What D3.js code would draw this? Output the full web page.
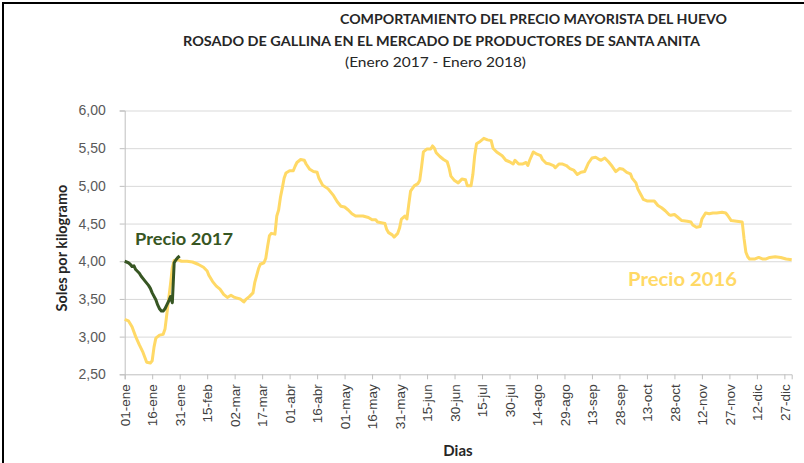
<!DOCTYPE html>
<html>
<head>
<meta charset="utf-8">
<script src="https://cdn.jsdelivr.net/npm/d3@7"></script>
<style>
  body { margin: 0; background: #fff; }
  svg { display: block; font-family: Lato, "Noto Sans", sans-serif; }
</style>
</head>
<body>
<svg id="chart" width="804" height="463"></svg>
<script>
// dia del año (0 = 01-ene) y precio en soles por kg
var dias2016 = [0,2,4,6,8,10,12,14,15,16,17,19,21,22,23,24,25,26,27,29,31,34,37,40,43,45,46,48,50,52,54,56,58,60,63,65,66,68,70,71,73,74,76,77,78,79,80,82,83,84,85,86,87,88,90,92,93,94,96,98,99,101,103,105,106,108,111,114,116,118,120,122,124,126,130,133,135,137,138,142,143,144,146,147,149,150,151,153,154,155,156,158,160,161,162,163,165,167,168,169,170,172,174,176,177,178,180,182,184,186,187,189,190,191,192,194,196,198,200,201,203,206,208,210,212,213,215,217,219,220,221,223,225,227,228,230,232,234,235,237,239,241,243,245,247,249,251,253,255,257,259,260,262,264,266,268,270,272,274,276,277,279,280,282,283,285,289,291,293,295,297,298,300,302,304,307,309,310,312,314,315,317,319,321,323,326,328,329,331,334,337,338,339,340,341,344,346,348,350,352,355,358,361,364]
var precio2016 = [3.23,3.21,3.13,3.00,2.89,2.79,2.66,2.65,2.68,2.86,2.98,3.02,3.03,3.10,3.30,3.50,3.70,3.92,4.01,4.02,4.00,4.00,3.99,3.96,3.92,3.87,3.81,3.73,3.67,3.63,3.56,3.52,3.55,3.52,3.50,3.46,3.49,3.53,3.58,3.72,3.90,3.96,3.98,4.04,4.20,4.34,4.37,4.36,4.60,4.68,4.85,4.97,5.10,5.17,5.20,5.20,5.26,5.31,5.35,5.34,5.29,5.22,5.19,5.18,5.10,5.01,4.96,4.87,4.79,4.73,4.72,4.68,4.63,4.60,4.60,4.58,4.55,4.55,4.52,4.50,4.42,4.38,4.35,4.32,4.37,4.44,4.56,4.60,4.56,4.75,4.93,5.00,5.03,5.07,5.25,5.45,5.49,5.49,5.53,5.50,5.44,5.39,5.35,5.32,5.24,5.13,5.07,5.04,5.09,5.08,5.00,5.00,5.15,5.40,5.56,5.59,5.63,5.61,5.60,5.50,5.45,5.40,5.34,5.32,5.29,5.34,5.29,5.29,5.31,5.27,5.34,5.45,5.42,5.40,5.35,5.30,5.29,5.27,5.24,5.29,5.29,5.27,5.23,5.21,5.15,5.18,5.19,5.30,5.37,5.38,5.35,5.34,5.37,5.32,5.26,5.19,5.23,5.22,5.18,5.16,5.10,5.04,4.96,4.87,4.82,4.80,4.80,4.74,4.71,4.67,4.62,4.61,4.62,4.58,4.54,4.53,4.52,4.48,4.45,4.46,4.56,4.64,4.63,4.64,4.64,4.65,4.64,4.61,4.54,4.53,4.52,4.30,4.12,4.06,4.03,4.03,4.05,4.03,4.03,4.05,4.06,4.05,4.03,4.02]

var dias2017 = [0,2,3,4,5,6,8,9,11,13,14,15,17,18,19,20,21,22,23,24,25,26,27,28,29,30]
var precio2017 = [4.00,3.98,3.96,3.93,3.94,3.89,3.84,3.80,3.74,3.68,3.64,3.58,3.49,3.42,3.37,3.34,3.34,3.37,3.42,3.47,3.53,3.45,3.98,4.02,4.05,4.07]

var tickDias = [0,15,30,45,60,75,90,105,120,135,150,165,180,195,210,225,240,255,270,285,300,315,330,345,360]
var tickFechas = ["01-ene","16-ene","31-ene","15-feb","02-mar","17-mar","01-abr","16-abr","01-may","16-may","31-may","15-jun","30-jun","15-jul","30-jul","14-ago","29-ago","13-sep","28-sep","13-oct","28-oct","12-nov","27-nov","12-dic","27-dic"]
var yTicks = [2.5,3,3.5,4,4.5,5,5.5,6]

var svg = d3.select("#chart")

// marco
svg.append("path")
    .attr("d", "M3,463 L3,3 L804,3")
    .attr("fill", "none")
    .attr("stroke", "#000")
    .attr("stroke-width", 2)

var x = d3.scaleLinear().domain([0, 364]).range([124.7, 791.7])
var y = d3.scaleLinear().domain([2.5, 6]).range([374.3, 110.5])

// lineas de grilla
svg.append("g")
    .attr("transform", "translate(124.7,0)")
    .call(d3.axisLeft(y).tickValues(yTicks.slice(1)).tickSize(-667).tickFormat(""))
    .call(g => g.select(".domain").remove())
    .selectAll("line")
    .attr("stroke", "#d9d9d9")

// eje y
var gy = svg.append("g")
    .attr("transform", "translate(124.7,0)")
    .call(d3.axisLeft(y).tickValues(yTicks).tickSize(5).tickPadding(14)
        .tickFormat(d => d3.format(".2f")(d).replace(".", ",")))
gy.select(".domain").attr("stroke", "#bfbfbf")
gy.selectAll("line").attr("stroke", "#bfbfbf")
gy.selectAll("text")
    .attr("fill", "#595959")
    .style("font-size", "14px")

// eje x
var gx = svg.append("g")
    .attr("transform", "translate(0,374.3)")
    .call(d3.axisBottom(x).tickValues(tickDias).tickSize(5)
        .tickFormat((d, i) => tickFechas[i]))
gx.select(".domain").attr("stroke", "#bfbfbf")
gx.selectAll("line").attr("stroke", "#bfbfbf")
gx.selectAll("text")
    .attr("fill", "#404040")
    .style("font-size", "13.5px")
    .attr("text-anchor", "end")
    .attr("transform", "rotate(-90)")
    .attr("x", -10)
    .attr("y", 0)
    .attr("dy", "0.35em")

var line = d3.line()
    .x(d => x(d[0]))
    .y(d => y(d[1]))

svg.append("path")
    .datum(d3.zip(dias2016, precio2016))
    .attr("d", line)
    .attr("fill", "none")
    .attr("stroke", "#ffd966")
    .attr("stroke-width", 3)
    .attr("stroke-linejoin", "round")

svg.append("path")
    .datum(d3.zip(dias2017, precio2017))
    .attr("d", line)
    .attr("fill", "none")
    .attr("stroke", "#375623")
    .attr("stroke-width", 3)
    .attr("stroke-linejoin", "round")

// titulos
svg.append("text")
    .attr("x", 340).attr("y", 24)
    .attr("textLength", 387).attr("lengthAdjust", "spacingAndGlyphs")
    .style("font-size", "13.5px").style("font-weight", "bold")
    .attr("fill", "#262626")
    .text("COMPORTAMIENTO DEL PRECIO MAYORISTA DEL HUEVO")

svg.append("text")
    .attr("x", 183).attr("y", 46)
    .attr("textLength", 517).attr("lengthAdjust", "spacingAndGlyphs")
    .style("font-size", "13.5px").style("font-weight", "bold")
    .attr("fill", "#262626")
    .text("ROSADO DE GALLINA EN EL MERCADO DE PRODUCTORES DE SANTA ANITA")

svg.append("text")
    .attr("x", 345).attr("y", 67)
    .attr("textLength", 181).attr("lengthAdjust", "spacingAndGlyphs")
    .style("font-size", "13.5px")
    .attr("fill", "#262626")
    .text("(Enero 2017 - Enero  2018)")

svg.append("text")
    .attr("transform", "translate(67,248) rotate(-90)")
    .attr("text-anchor", "middle")
    .style("font-size", "14.5px").style("font-weight", "bold")
    .attr("fill", "#262626")
    .text("Soles por kilogramo")

svg.append("text")
    .attr("x", 458).attr("y", 456)
    .attr("text-anchor", "middle")
    .style("font-size", "15px").style("font-weight", "bold")
    .attr("fill", "#262626")
    .text("Dias")

// etiquetas de series
svg.append("text")
    .attr("x", 135).attr("y", 245)
    .attr("textLength", 98).attr("lengthAdjust", "spacingAndGlyphs")
    .style("font-size", "17px").style("font-weight", "bold")
    .attr("fill", "#375623")
    .text("Precio 2017")

svg.append("text")
    .attr("x", 628).attr("y", 286)
    .attr("textLength", 109).attr("lengthAdjust", "spacingAndGlyphs")
    .style("font-size", "18px").style("font-weight", "bold")
    .attr("fill", "#ffd966")
    .text("Precio 2016")
</script>
</body>
</html>
